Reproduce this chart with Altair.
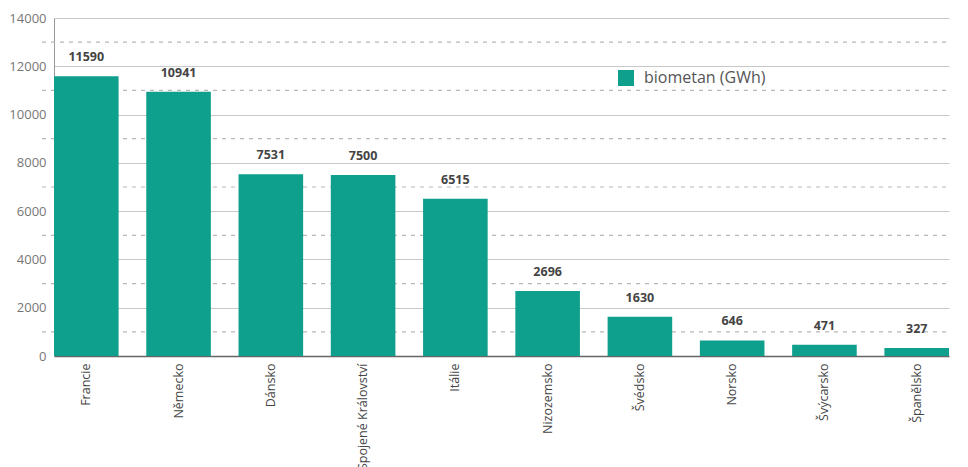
import altair as alt
import pandas as pd

countries = ["Francie", "Německo", "Dánsko", "Spojené Království", "Itálie",
             "Nizozemsko", "Švédsko", "Norsko", "Švýcarsko", "Španělsko"]
values = [11590, 10941, 7531, 7500, 6515, 2696, 1630, 646, 471, 327]
series_name = ["biometan (GWh)"]
major_ticks = [0, 2000, 4000, 6000, 8000, 10000, 12000, 14000]
minor_ticks = [1000, 3000, 5000, 7000, 9000, 11000, 13000]

df = pd.DataFrame({"country": countries, "value": values,
                   "series": series_name * len(countries)})
minor_df = pd.DataFrame({"v": minor_ticks})

TEAL = "#0f9f8d"
FONT = "Open Sans"
W, H = 895, 338

x = alt.X("country:N", sort=countries, title=None,
          scale=alt.Scale(paddingInner=0.3, paddingOuter=0),
          axis=alt.Axis(labelAngle=-90, labelAlign="right", labelBaseline="middle",
                        labelFont=FONT, labelFontSize=12.5, labelColor="#444",
                        labelPadding=7, ticks=False, domain=True,
                        domainColor="#666", domainWidth=1.5, grid=False))

yscale = alt.Scale(domain=[0, 14000], nice=False)
y = alt.Y("value:Q", title=None, scale=yscale,
          axis=alt.Axis(values=major_ticks, format="d", labelFont=FONT,
                        labelFontSize=13, labelColor="#777", labelPadding=8,
                        ticks=False, gridColor="#c8c8c8", gridWidth=1.2,
                        domain=True, domainColor="#999", domainWidth=1))

minor = alt.Chart(minor_df).mark_rule(color="#b8b8b8", strokeDash=[4, 5],
                                      strokeWidth=1.2).encode(
    y=alt.Y("v:Q", scale=yscale, title=None),
    x=alt.value(-12), x2=alt.value(W))

bars = alt.Chart(df).mark_bar().encode(
    x=x, y=y,
    color=alt.Color("series:N", scale=alt.Scale(range=[TEAL]),
                    legend=alt.Legend(title=None, orient="none", legendX=564, legendY=52,
                                      symbolType="square", symbolSize=256,
                                      symbolStrokeWidth=0, labelFont=FONT,
                                      labelFontSize=16, labelColor="#555",
                                      labelOffset=10)))

labels = alt.Chart(df).mark_text(font=FONT, fontWeight="bold", fontSize=12.5,
                                 color="#444", dy=-15, baseline="alphabetic").encode(
    x=alt.X("country:N", sort=countries),
    y="value:Q",
    text="value:Q")

chart = alt.layer(minor, bars, labels).properties(
    width=W, height=H,
    autosize=alt.AutoSizeParams(type="none"),
    padding={"left": 46, "top": 10, "right": 10, "bottom": 112},
).configure_view(stroke=None)

chart.save("out.html", embed_options={"renderer": "svg", "actions": False})
